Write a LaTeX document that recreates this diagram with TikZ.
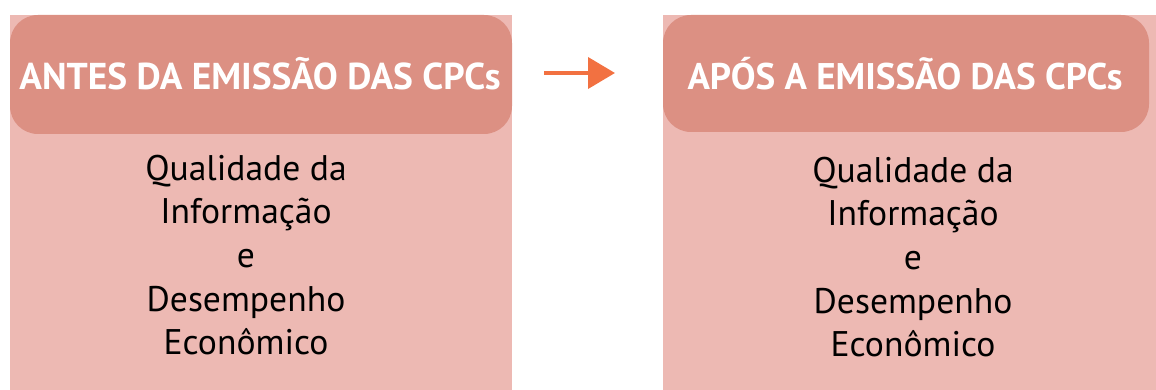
\documentclass[tikz,border=0pt]{standalone}
\usepackage{fontspec}
\setmainfont{PT Sans}
\usetikzlibrary{arrows.meta}
\definecolor{hdr}{HTML}{DC9083}
\definecolor{bdy}{HTML}{EDB9B3}
\definecolor{arr}{HTML}{F27141}
\tikzset{
  bodybox/.style={fill=bdy, draw=none},
  hdrbox/.style={fill=hdr, draw=none, rounded corners=28pt},
  hdrtext/.style={text=white, font=\bfseries\fontsize{36}{40}\selectfont, inner sep=0pt},
  bodytext/.style={text=black, align=center, font=\fontsize{35.6}{43.7}\selectfont, inner sep=0pt},
  flow/.style={draw=arr, line width=4pt, -{Triangle[length=27pt,width=31pt]}}
}
\begin{document}
\begin{tikzpicture}[x=1pt,y=-1pt]
\useasboundingbox (0,0) rectangle (1156,390);
% left panel
\fill[bodybox] (10,15) rectangle (512,390);
\fill[hdrbox] (10,15) rectangle (512,134);
\node[hdrtext] (h1) at (260,74) {\resizebox{481pt}{!}{ANTES DA EMISSÃO DAS CPCs}};
\node[bodytext] (b1) at (246,255) {Qualidade da\\Informação\\e\\Desempenho\\Econômico};
% right panel
\fill[bodybox] (663,15) rectangle (1156,390);
\fill[hdrbox] (663,15) rectangle (1149,132);
\node[hdrtext] (h2) at (905,74) {\resizebox{435pt}{!}{APÓS A EMISSÃO DAS CPCs}};
\node[bodytext] (b2) at (913,257) {Qualidade da\\Informação\\e\\Desempenho\\Econômico};
% arrow
\coordinate (a1) at (544,73);
\coordinate (a2) at (615,73);
\draw[flow] (a1) -- (a2);
\end{tikzpicture}
\end{document}
